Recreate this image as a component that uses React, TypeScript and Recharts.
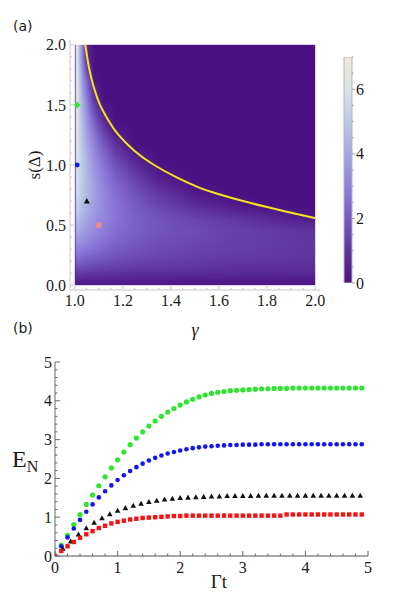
import { Bar, ComposedChart, Line, ReferenceArea, Scatter, XAxis, YAxis } from "recharts";

const SERIF = '"Liberation Serif", "DejaVu Serif", serif';
const SANS = '"DejaVu Sans", "Liberation Sans", sans-serif';

// ---------- (a) heat map of E_N over (gamma, s), read row by row ----------
const gammaStops = [1.0, 1.0075, 1.011, 1.016, 1.03, 1.05, 1.08, 1.12, 1.17, 1.25, 1.35, 1.5, 1.65, 1.8, 2.0];
const heatS = [0.02, 0.06, 0.105, 0.165, 0.25, 0.35, 0.45, 0.55, 0.65, 0.75, 0.85, 0.95, 1.05, 1.15, 1.25, 1.375, 1.525, 1.7, 1.9];
const heatRows = [
  [0.3, 0.3, 0.3, 0.3, 0.3, 0.3, 0.3, 0.3, 0.3, 0.25, 0.25, 0.2, 0.2, 0.2, 0.15],
  [0.6, 0.8, 0.8, 0.8, 0.8, 0.75, 0.75, 0.7, 0.65, 0.6, 0.55, 0.55, 0.5, 0.45, 0.4],
  [0.9, 1.3, 1.3, 1.3, 1.25, 1.2, 1.15, 1.1, 1.0, 0.95, 0.9, 0.85, 0.8, 0.75, 0.7],
  [1.2, 1.9, 1.9, 1.9, 1.85, 1.75, 1.65, 1.55, 1.45, 1.3, 1.2, 1.1, 1.0, 0.95, 0.9],
  [1.6, 2.7, 2.7, 2.7, 2.6, 2.45, 2.3, 2.1, 1.9, 1.7, 1.5, 1.35, 1.25, 1.15, 1.05],
  [1.9, 3.5, 3.5, 3.45, 3.3, 3.1, 2.85, 2.55, 2.25, 1.95, 1.7, 1.5, 1.35, 1.25, 1.1],
  [2.1, 4.2, 4.2, 4.1, 3.9, 3.6, 3.25, 2.9, 2.5, 2.15, 1.85, 1.6, 1.4, 1.2, 1.0],
  [2.2, 4.8, 4.8, 4.65, 4.35, 4.0, 3.55, 3.1, 2.65, 2.2, 1.8, 1.45, 1.1, 0.7, 0.25],
  [2.3, 5.3, 5.3, 5.1, 4.7, 4.3, 3.75, 3.2, 2.65, 2.05, 1.5, 0.85, 0.35, 0.05, 0],
  [2.4, 5.7, 5.7, 5.4, 4.95, 4.45, 3.85, 3.2, 2.55, 1.85, 1.15, 0.35, 0, 0, 0],
  [2.5, 6.0, 5.9, 5.6, 5.05, 4.5, 3.8, 3.05, 2.3, 1.5, 0.6, 0, 0, 0, 0],
  [2.5, 6.3, 6.1, 5.7, 5.1, 4.45, 3.65, 2.8, 1.95, 1.05, 0.15, 0, 0, 0, 0],
  [2.5, 6.5, 6.2, 5.75, 5.05, 4.3, 3.4, 2.5, 1.55, 0.5, 0, 0, 0, 0, 0],
  [2.6, 6.7, 6.3, 5.75, 4.95, 4.1, 3.1, 2.1, 1.0, 0, 0, 0, 0, 0, 0],
  [2.6, 6.9, 6.4, 5.7, 4.8, 3.85, 2.7, 1.5, 0.3, 0, 0, 0, 0, 0, 0],
  [2.6, 7.0, 6.5, 5.7, 4.6, 3.5, 2.1, 0.7, 0, 0, 0, 0, 0, 0, 0],
  [2.6, 7.0, 6.5, 5.6, 4.3, 3.0, 1.2, 0, 0, 0, 0, 0, 0, 0, 0],
  [2.5, 7.0, 6.4, 5.4, 3.9, 2.3, 0.1, 0, 0, 0, 0, 0, 0, 0, 0],
  [2.5, 7.0, 6.3, 5.0, 3.1, 0.6, 0, 0, 0, 0, 0, 0, 0, 0, 0],
];

// yellow border where E_N drops to zero
const borderGamma = [1.044, 1.06, 1.08, 1.105, 1.14, 1.18, 1.25, 1.33, 1.43, 1.52, 1.6, 1.7, 1.8, 1.9, 2.0];
const borderS = [2.0, 1.8, 1.64, 1.5, 1.37, 1.255, 1.115, 1.0, 0.89, 0.81, 0.757, 0.7, 0.65, 0.603, 0.558];

// marked parameter points: green, blue, black, pink
const pointGamma = [1.01, 1.01, 1.05, 1.1];
const pointS = [1.5, 1.0, 0.7, 0.5];

const gammaTicks = [1.0, 1.2, 1.4, 1.6, 1.8, 2.0];
const sTicks = [0, 0.5, 1.0, 1.5, 2.0];

// colour scale
const cmapValues = [0, 1, 2, 3, 4, 5, 6, 7];
const cmapColors = ["#4b1183", "#5e349c", "#7759c4", "#8f81dc", "#a6a5e4", "#b9cce6", "#d9e2e6", "#f0e8d6"];
const barTicks = [0, 2, 4, 6];
const barTop = [{ k: "bar", v: 7 }];

// ---------- (b) E_N versus Gamma t ----------
const tTenth = [0, 0.1, 0.2, 0.3, 0.4, 0.5, 0.6, 0.7, 0.8, 0.9, 1, 1.1, 1.2, 1.3, 1.4, 1.5, 1.6, 1.7, 1.8, 1.9,
  2, 2.1, 2.2, 2.3, 2.4, 2.5, 2.6, 2.7, 2.8, 2.9, 3, 3.1, 3.2, 3.3, 3.4, 3.5, 3.6, 3.7, 3.8, 3.9,
  4, 4.1, 4.2, 4.3, 4.4, 4.5, 4.6, 4.7, 4.8, 4.9];
const tEighth = [0, 0.125, 0.25, 0.375, 0.5, 0.625, 0.75, 0.875, 1, 1.125, 1.25, 1.375, 1.5, 1.625, 1.75, 1.875,
  2, 2.125, 2.25, 2.375, 2.5, 2.625, 2.75, 2.875, 3, 3.125, 3.25, 3.375, 3.5, 3.625, 3.75, 3.875,
  4, 4.125, 4.25, 4.375, 4.5, 4.625, 4.75, 4.875];

const greenEN = [0, 0.28, 0.53, 0.81, 1.07, 1.33, 1.57, 1.81, 2.04, 2.27,
  2.48, 2.68, 2.87, 3.04, 3.2, 3.35, 3.48, 3.6, 3.71, 3.8,
  3.89, 3.97, 4.04, 4.1, 4.15, 4.19, 4.22, 4.24, 4.26, 4.27,
  4.28, 4.29, 4.3, 4.31, 4.31, 4.32, 4.32, 4.32, 4.33, 4.33,
  4.33, 4.33, 4.33, 4.33, 4.33, 4.33, 4.33, 4.33, 4.33, 4.33];
const blueEN = [0, 0.25, 0.48, 0.71, 0.93, 1.14, 1.33, 1.51, 1.67, 1.82,
  1.96, 2.08, 2.19, 2.29, 2.38, 2.46, 2.53, 2.59, 2.64, 2.68,
  2.72, 2.75, 2.78, 2.8, 2.82, 2.83, 2.84, 2.85, 2.86, 2.86,
  2.87, 2.87, 2.87, 2.88, 2.88, 2.88, 2.88, 2.88, 2.88, 2.88,
  2.88, 2.88, 2.88, 2.88, 2.88, 2.88, 2.88, 2.88, 2.88, 2.88];
const redEN = [0, 0.13, 0.25, 0.36, 0.47, 0.56, 0.64, 0.72, 0.78, 0.84,
  0.88, 0.91, 0.94, 0.96, 0.98, 0.99, 1.0, 1.01, 1.02, 1.03,
  1.03, 1.04, 1.04, 1.04, 1.04, 1.04, 1.04, 1.04, 1.04, 1.04,
  1.04, 1.04, 1.04, 1.04, 1.04, 1.04, 1.04, 1.07, 1.07, 1.07,
  1.07, 1.07, 1.07, 1.07, 1.07, 1.07, 1.07, 1.07, 1.07, 1.07];
const blackEN = [0, 0.19, 0.38, 0.56, 0.72, 0.86, 0.98, 1.08, 1.17, 1.24,
  1.3, 1.35, 1.4, 1.43, 1.46, 1.48, 1.5, 1.51, 1.52, 1.53,
  1.54, 1.54, 1.55, 1.55, 1.55, 1.55, 1.56, 1.56, 1.56, 1.56,
  1.56, 1.56, 1.56, 1.56, 1.56, 1.56, 1.56, 1.56, 1.56, 1.56];

const unitTicks = [0, 1, 2, 3, 4, 5];

// ---------- helpers ----------
const range = (a: number, b: number, d: number) =>
  Array.from({ length: Math.round((b - a) / d) + 1 }, (_, i) => +(a + i * d).toFixed(4));

function rgb(h: string) {
  const n = parseInt(h.slice(1), 16);
  return [(n >> 16) & 255, (n >> 8) & 255, n & 255];
}

function colorAt(v: number) {
  const c = Math.max(0, Math.min(7, v));
  let i = 0;
  while (i < cmapValues.length - 2 && c > cmapValues[i + 1]) i++;
  const f = (c - cmapValues[i]) / (cmapValues[i + 1] - cmapValues[i]);
  const a = rgb(cmapColors[i]);
  const b = rgb(cmapColors[i + 1]);
  const m = a.map((x, k) => Math.round(x + (b[k] - x) * f));
  return `rgb(${m[0]},${m[1]},${m[2]})`;
}

type Side = "bottom" | "left" | "top" | "right";
type TickStyle = { gap: number; major: number; minor: number; stroke: string; label?: boolean; digits?: number };

// Mathematica style frame ticks: pointing inwards, longer at the labelled values
function frameTick(side: Side, majors: number[], st: TickStyle) {
  return function FrameTick(props: any) {
    const x = Number(props.x);
    const y = Number(props.y);
    const v = Number(props.payload?.value);
    const isMajor = majors.some((m) => Math.abs(m - v) < 1e-6);
    const len = isMajor ? st.major : st.minor;
    const g = st.gap;
    let p = [x, y, x, y];
    let anchor: "middle" | "end" | "start" = "middle";
    let dy = "0.35em";
    if (side === "bottom") {
      p = [x, y - g, x, y - g - len];
      dy = "0.72em";
    } else if (side === "top") {
      p = [x, y + g, x, y + g + len];
    } else if (side === "left") {
      p = [x + g, y, x + g + len, y];
      anchor = "end";
    } else {
      p = [x - g, y, x - g - len, y];
      anchor = "start";
    }
    return (
      <g>
        <line x1={p[0]} y1={p[1]} x2={p[2]} y2={p[3]} stroke={st.stroke} strokeWidth={1} />
        {st.label && isMajor ? (
          <text x={x} y={y} dy={dy} textAnchor={anchor} style={{ fontFamily: SERIF, fontSize: 16 }} fill="#1a1a1a">
            {v.toFixed(st.digits ?? 0)}
          </text>
        ) : null}
      </g>
    );
  };
}

// one band of the heat map between two sampled rows: lower row underneath,
// upper row on top faded in from bottom to top
const heatBand = (lower: number, upper: number) => (p: any) => (
  <g>
    <rect x={p.x} y={p.y} width={p.width} height={p.height} fill={`url(#heat${lower})`} />
    {upper !== lower ? (
      <rect x={p.x} y={p.y} width={p.width} height={p.height} fill={`url(#heat${upper})`} mask="url(#fadeUp)" />
    ) : null}
  </g>
);

const last = heatRows.length - 1;
const heatBands = [
  { y1: 0, y2: heatS[0], lo: 0, hi: 0 },
  ...heatS.slice(0, last).map((s, i) => ({ y1: s, y2: heatS[i + 1], lo: i, hi: i + 1 })),
  { y1: heatS[last], y2: 2, lo: last, hi: last },
];

const borderData = borderGamma.map((g, i) => ({ g, s: borderS[i] }));
const pointData = pointGamma.map((g, i) => ({ g, s: pointS[i] }));
const series10 = (vals: number[]) => tTenth.map((t, i) => ({ t, v: vals[i] }));
const greenData = series10(greenEN);
const blueData = series10(blueEN);
const redData = series10(redEN);
const blackData = tEighth.map((t, i) => ({ t, v: blackEN[i] }));

const FRAME_A = "#c9c9c9";
const FRAME_B = "#8a8a8a";

const diamond = (r: number, fill: string) => (p: any) => (
  <path d={`M${p.cx},${p.cy - r}L${p.cx + r},${p.cy}L${p.cx},${p.cy + r}L${p.cx - r},${p.cy}Z`} fill={fill} />
);
const dot = (r: number, fill: string) => (p: any) => <circle cx={p.cx} cy={p.cy} r={r} fill={fill} />;
const square = (h: number, fill: string) => (p: any) => (
  <rect x={p.cx - h} y={p.cy - h} width={2 * h} height={2 * h} fill={fill} />
);
const triangle = (h: number, fill: string) => (p: any) => (
  <path d={`M${p.cx},${p.cy - h}L${p.cx + h},${p.cy + h * 0.8}L${p.cx - h},${p.cy + h * 0.8}Z`} fill={fill} />
);

const label = (style: React.CSSProperties, text: React.ReactNode) => (
  <div style={{ position: "absolute", lineHeight: 1, whiteSpace: "nowrap", color: "#1a1a1a", ...style }}>{text}</div>
);

export default function App() {
  return (
    <div style={{ position: "absolute", left: 0, top: 0, width: 399, height: 608, background: "#fff", overflow: "hidden" }}>
      <svg width={0} height={0} style={{ position: "absolute" }}>
        <defs>
          {heatRows.map((row, i) => (
            <linearGradient key={i} id={`heat${i}`} x1="0" y1="0" x2="1" y2="0">
              {/* thin darker strip right at gamma = 1 */}
              <stop offset={0} stopColor={colorAt(row[0])} />
              <stop offset={0.004} stopColor={colorAt(row[0])} />
              {row.slice(1).map((v, j) => (
                <stop key={j} offset={gammaStops[j + 1] - 1} stopColor={colorAt(v)} />
              ))}
            </linearGradient>
          ))}
          <linearGradient id="fadeGrad" x1="0" y1="1" x2="0" y2="0">
            <stop offset="0" stopColor="#000" />
            <stop offset="1" stopColor="#fff" />
          </linearGradient>
          <mask id="fadeUp" maskUnits="objectBoundingBox" maskContentUnits="objectBoundingBox" x="0" y="0" width="1" height="1">
            <rect x="0" y="0" width="1" height="1" fill="url(#fadeGrad)" />
          </mask>
          <linearGradient id="cbar" x1="0" y1="1" x2="0" y2="0">
            {cmapValues.map((v, j) => (
              <stop key={j} offset={v / 7} stopColor={cmapColors[j]} />
            ))}
          </linearGradient>
        </defs>
      </svg>

      {/* panel (a) */}
      <div style={{ position: "absolute", left: 0, top: 0 }}>
        <ComposedChart width={330} height={320} margin={{ top: 40, right: 10, bottom: 0, left: 0 }}>
          <XAxis type="number" dataKey="g" domain={[0.98, 2.02]} allowDataOverflow ticks={range(1, 2, 0.05)} interval={0}
            height={30} axisLine={{ stroke: FRAME_A }} tickLine={false} tickSize={0} tickMargin={4}
            tick={frameTick("bottom", gammaTicks, { gap: 4, major: 4, minor: 2, stroke: FRAME_A, label: true, digits: 1 })} />
          <XAxis xAxisId="top" orientation="top" type="number" domain={[0.98, 2.02]} allowDataOverflow ticks={range(1, 2, 0.05)}
            interval={0} height={0} axisLine={{ stroke: FRAME_A }} tickLine={false} tickSize={0} tickMargin={0}
            tick={frameTick("top", gammaTicks, { gap: 0, major: 4, minor: 2, stroke: FRAME_A })} />
          <YAxis type="number" dataKey="s" domain={[-0.04, 2.04]} allowDataOverflow ticks={range(0, 2, 0.1)} interval={0}
            width={70} axisLine={{ stroke: FRAME_A }} tickLine={false} tickSize={0} tickMargin={4}
            tick={frameTick("left", sTicks, { gap: 4, major: 4, minor: 2, stroke: FRAME_A, label: true, digits: 1 })} />
          <YAxis yAxisId="right" orientation="right" type="number" domain={[-0.04, 2.04]} allowDataOverflow ticks={range(0, 2, 0.1)}
            interval={0} width={0} axisLine={{ stroke: FRAME_A }} tickLine={false} tickSize={0} tickMargin={0}
            tick={frameTick("right", sTicks, { gap: 0, major: 4, minor: 2, stroke: FRAME_A })} />
          {heatBands.map((b, i) => (
            <ReferenceArea key={i} x1={1} x2={2} y1={b.y1} y2={b.y2 < 2 ? b.y2 + 0.006 : b.y2}
              ifOverflow="visible" shape={heatBand(b.lo, b.hi)} />
          ))}
          <Line data={borderData} dataKey="s" type="natural" stroke="#f7e617" strokeWidth={2} dot={false}
            activeDot={false} isAnimationActive={false} />
          <Scatter data={[pointData[0]]} dataKey="s" shape={diamond(3.4, "#2ee62e")} isAnimationActive={false} />
          <Scatter data={[pointData[1]]} dataKey="s" shape={dot(2.4, "#1414f0")} isAnimationActive={false} />
          <Scatter data={[pointData[2]]} dataKey="s" shape={triangle(3, "#111")} isAnimationActive={false} />
          <Scatter data={[pointData[3]]} dataKey="s" shape={square(2.6, "#f58a82")} isAnimationActive={false} />
        </ComposedChart>
      </div>

      {/* colour bar */}
      <div style={{ position: "absolute", left: 300, top: 0 }}>
        <ComposedChart width={99} height={300} data={barTop} barCategoryGap={0}
          margin={{ top: 57, right: 0, bottom: 17, left: 44 }}>
          <XAxis dataKey="k" type="category" hide />
          <YAxis orientation="right" type="number" domain={[0, 7]} allowDataOverflow ticks={range(0, 7, 0.5)} interval={0}
            width={47} axisLine={false} tickLine={false} tickSize={0} tickMargin={4}
            tick={frameTick("right", barTicks, { gap: 4, major: -3, minor: -1.5, stroke: "#999", label: true })} />
          <Bar dataKey="v" fill="url(#cbar)" stroke="#b5b5b5" strokeWidth={1} isAnimationActive={false} />
        </ComposedChart>
      </div>

      {/* panel (b) */}
      <div style={{ position: "absolute", left: 0, top: 300 }}>
        <ComposedChart width={399} height={308} margin={{ top: 62, right: 31, bottom: 0, left: 0 }}>
          <XAxis type="number" dataKey="t" domain={[0, 5]} allowDataOverflow ticks={range(0, 5, 0.2)} interval={0}
            height={52} axisLine={{ stroke: FRAME_B, strokeWidth: 1.3 }} tickLine={false} tickSize={0} tickMargin={5}
            tick={frameTick("bottom", unitTicks, { gap: 5, major: 5, minor: 2.5, stroke: "#666", label: true })} />
          <XAxis xAxisId="top" orientation="top" type="number" domain={[0, 5]} allowDataOverflow ticks={range(0, 5, 0.2)}
            interval={0} height={0} axisLine={{ stroke: FRAME_B, strokeWidth: 1.3 }} tickLine={false} tickSize={0} tickMargin={0}
            tick={frameTick("top", unitTicks, { gap: 0, major: 5, minor: 2.5, stroke: "#666" })} />
          <YAxis type="number" dataKey="v" domain={[0, 5]} allowDataOverflow ticks={range(0, 5, 0.2)} interval={0}
            width={55} axisLine={{ stroke: FRAME_B, strokeWidth: 1.3 }} tickLine={false} tickSize={0} tickMargin={3}
            tick={frameTick("left", unitTicks, { gap: 3, major: 5, minor: 2.5, stroke: "#666", label: true })} />
          <YAxis yAxisId="right" orientation="right" type="number" domain={[0, 5]} allowDataOverflow ticks={range(0, 5, 0.2)}
            interval={0} width={0} axisLine={{ stroke: FRAME_B, strokeWidth: 1.3 }} tickLine={false} tickSize={0} tickMargin={0}
            tick={frameTick("right", unitTicks, { gap: 0, major: 5, minor: 2.5, stroke: "#666" })} />
          <Scatter data={greenData} dataKey="v" shape={dot(2.6, "#2ee62e")} isAnimationActive={false} />
          <Scatter data={blueData} dataKey="v" shape={dot(2.3, "#1414f0")} isAnimationActive={false} />
          <Scatter data={blackData} dataKey="v" shape={triangle(2.8, "#111")} isAnimationActive={false} />
          <Scatter data={redData} dataKey="v" shape={square(2.2, "#f01414")} isAnimationActive={false} />
        </ComposedChart>
      </div>

      {label({ left: 13, top: 19, fontFamily: SANS, fontSize: 14 }, "(a)")}
      {label({ left: 13, top: 321, fontFamily: SANS, fontSize: 14 }, "(b)")}
      {label({ left: 34, top: 165, fontFamily: SERIF, fontSize: 17, transform: "translate(-50%, -50%) rotate(-90deg)" }, "s(Δ)")}
      {label({ left: 195, top: 330, fontFamily: SERIF, fontSize: 18, fontStyle: "italic", transform: "translate(-50%, -50%)" }, "γ")}
      {label({ left: 219, top: 581, fontFamily: SERIF, fontSize: 19, transform: "translate(-50%, -50%)" }, "Γt")}
      {label({ left: 12, top: 447, fontFamily: SERIF, fontSize: 24 },
        <span>E<span style={{ fontSize: 16, position: "relative", top: 5 }}>N</span></span>)}
    </div>
  );
}
